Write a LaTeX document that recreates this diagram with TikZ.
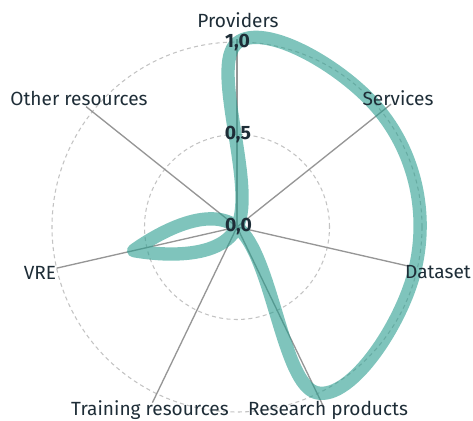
\documentclass[tikz,border=0pt]{standalone}
\usepackage{fontspec}
\setmainfont{Fira Sans}
\definecolor{bandteal}{RGB}{42,157,143}
\definecolor{spokegray}{RGB}{150,150,150}
\definecolor{gridgray}{RGB}{195,195,195}
\definecolor{inkdark}{RGB}{30,45,55}
\begin{document}
\begin{tikzpicture}[x=0.75pt,y=0.75pt,
	gridline/.style={gridgray, dash pattern=on 3pt off 2.5pt, line width=0.8pt},
	spokeline/.style={spokegray, line width=1pt},
	radarline/.style={bandteal, draw opacity=0.6, line width=10pt, line join=round},
	axislabel/.style={font=\fontsize{14.3}{14.3}\selectfont, text=inkdark, inner sep=0pt},
	ticklabel/.style={font=\fontsize{14.5}{14.5}\selectfont\bfseries, text=inkdark, inner sep=0pt}]
				\useasboundingbox (-237,-193) rectangle (236,227);
				\coordinate (c) at (0,0);

				% Grid
				\draw[gridline] (c) circle (92.5);
				\draw[gridline] (c) circle (185);

				% Spokes
				\coordinate (providers) at (90:188);
				\coordinate (services) at (38.57:197);
				\coordinate (dataset) at (-12.86:177);
				\coordinate (research) at (-64.29:200);
				\coordinate (training) at (-115.71:195);
				\coordinate (vre) at (-167.14:185);
				\coordinate (other) at (141.43:193);
				\draw[spokeline] (c) -- (providers);
				\draw[spokeline] (c) -- (services);
				\draw[spokeline] (c) -- (dataset);
				\draw[spokeline] (c) -- (research);
				\draw[spokeline] (c) -- (training);
				\draw[spokeline] (c) -- (vre);
				\draw[spokeline] (c) -- (other);

				% Values
				\draw[radarline] plot[smooth cycle, tension=0.7] coordinates {(90:184) (38.57:184) (-12.86:183) (-64.29:184) (-115.71:0) (-167.14:106) (141.43:0)};

				% Axis labels
				\node[axislabel] (lprov) at (1,207) {Providers};
				\node[axislabel] (lserv) at (161,129) {Services};
				\node[axislabel] (ldata) at (201,-45) {Dataset};
				\node[axislabel] (lres) at (91,-183) {Research products};
				\node[axislabel] (ltrain) at (-87,-183) {Training resources};
				\node[axislabel] (lvre) at (-197,-46) {VRE};
				\node[axislabel] (lother) at (-158,129) {Other resources};

				% Ticks
				\node[ticklabel] (tone) at (0.5,184) {1,0};
				\node[ticklabel] (thalf) at (1,92) {0,5};
				\node[ticklabel] (tzero) at (1.5,0) {0,0};
			\end{tikzpicture}
\end{document}
